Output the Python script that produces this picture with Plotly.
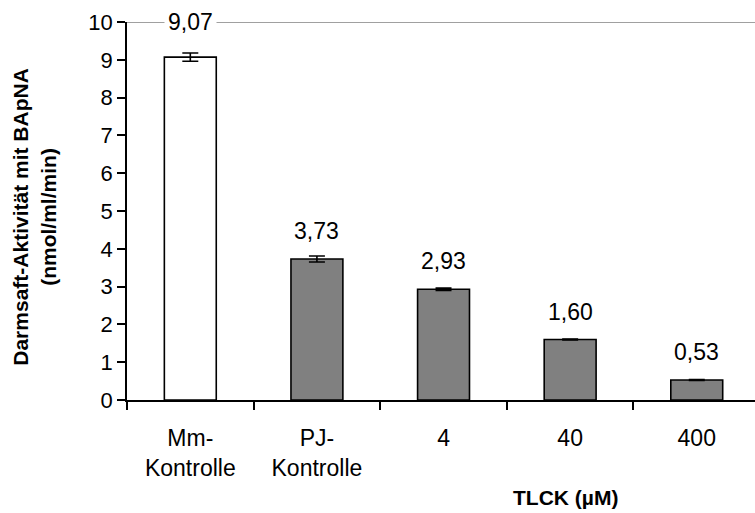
import plotly.graph_objects as go

# Darmsaft activity with BApNA substrate, controls and TLCK concentrations
categories = ["Mm-<br>Kontrolle", "PJ-<br>Kontrolle", "4", "40", "400"]
values = [9.07, 3.73, 2.93, 1.60, 0.53]
errors = [0.11, 0.08, 0.03, 0.01, 0.01]
value_labels = ["9,07", "3,73", "2,93", "1,60", "0,53"]
bar_colors = ["#ffffff", "#808080", "#808080", "#808080", "#808080"]

Y_MAX = 10
LABEL_OFFSET = 0.74  # gap between bar top and its value label, in data units

FONT = "Liberation Sans, Arial, sans-serif"

fig = go.Figure()
fig.add_trace(go.Bar(
    x=categories,
    y=values,
    width=0.41,
    marker=dict(color=bar_colors, line=dict(color="#000000", width=1.6)),
    error_y=dict(type="data", array=errors, visible=True,
                 color="#000000", thickness=1.6, width=8),
    showlegend=False,
    hoverinfo="skip",
))

# value labels above bars; labels that would reach the top sit on the border
for i, (v, txt) in enumerate(zip(values, value_labels)):
    label_y = v + LABEL_OFFSET
    if label_y > Y_MAX - 0.5:
        label_y = Y_MAX
    fig.add_annotation(
        x=i, y=label_y, xref="x", yref="y",
        text=txt, showarrow=False, yanchor="middle", xanchor="center",
        font=dict(family=FONT, size=23, color="#000000"),
        bgcolor="#ffffff", borderpad=3,
    )

# grey border line along the top of the plot area
fig.add_shape(type="line", xref="paper", yref="y", x0=-0.013, x1=1.0,
              y0=Y_MAX, y1=Y_MAX, line=dict(color="#808080", width=1.5),
              layer="below")

fig.add_annotation(
    text="<b>Darmsaft-Aktivität mit BApNA<br>(nmol/ml/min)</b>",
    xref="paper", yref="paper", x=-0.148, y=0.485, textangle=-90,
    showarrow=False, xanchor="center", yanchor="middle",
    font=dict(family=FONT, size=21, color="#000000"),
)
fig.add_annotation(
    text="<b>TLCK (µM)</b>",
    xref="paper", yref="paper", x=0.699, y=-0.259,
    showarrow=False, xanchor="center", yanchor="middle",
    font=dict(family=FONT, size=21, color="#000000"),
)

fig.update_layout(
    width=755, height=513,
    margin=dict(l=127, r=0, t=22, b=113),
    paper_bgcolor="#ffffff", plot_bgcolor="#ffffff",
    font=dict(family=FONT, size=22, color="#000000"),
    xaxis=dict(
        type="category", range=[-0.5, 4.46],
        showline=True, linecolor="#000000", linewidth=1.5,
        ticks="outside", ticklen=8, tickwidth=1.5, tickcolor="#000000",
        tickson="boundaries", showgrid=False, zeroline=False,
        ticklabelstandoff=17,
        tickfont=dict(family=FONT, size=23),
    ),
    yaxis=dict(
        range=[0, Y_MAX], dtick=1, tick0=0,
        showline=True, linecolor="#000000", linewidth=1.5,
        ticks="outside", ticklen=8, tickwidth=1.5, tickcolor="#000000",
        showgrid=False, zeroline=False,
        tickfont=dict(family=FONT, size=22),
    ),
)

fig.write_html("out.html")
